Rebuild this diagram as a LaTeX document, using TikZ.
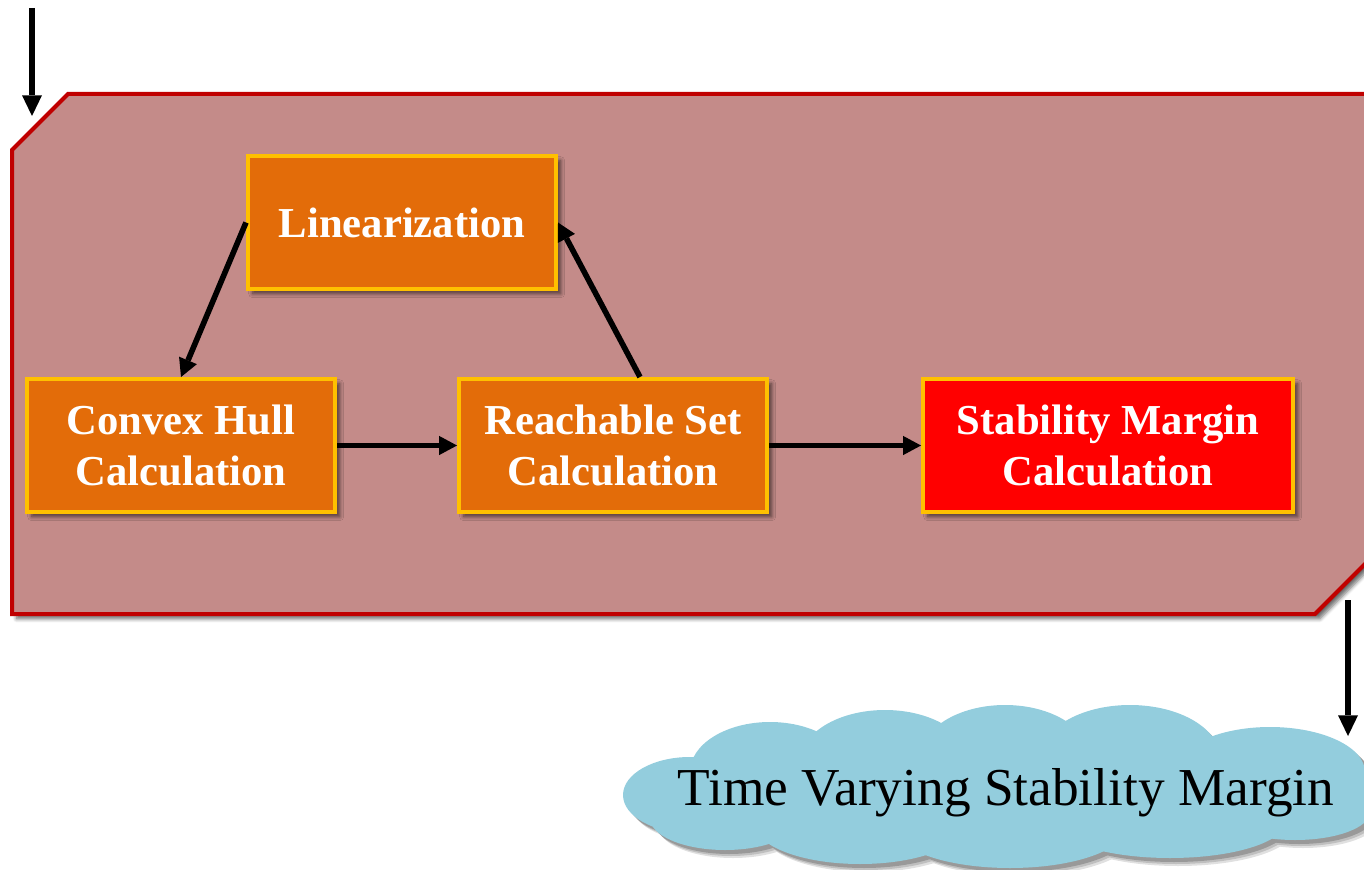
\documentclass[tikz,border=0pt]{standalone}
\usepackage{fontspec}
\setmainfont{Liberation Serif}
\usetikzlibrary{arrows.meta,shadows.blur,calc}

\definecolor{panelfill}{HTML}{C48B89}
\definecolor{panelline}{HTML}{C00000}
\definecolor{stepfill}{HTML}{E36C09}
\definecolor{stepline}{HTML}{FFC000}
\definecolor{alertfill}{HTML}{FF0000}
\definecolor{cloudfill}{HTML}{93CDDD}

\begin{document}
\begin{tikzpicture}[x=0.75pt,y=-0.75pt,
  softshadow/.style={blur shadow={shadow xshift=3.5pt, shadow yshift=-3.5pt,
      shadow blur radius=3pt, shadow blur steps=6, shadow opacity=60}},
  stepbox/.style={draw=stepline, line width=3pt, fill=stepfill, text=white,
      font=\fontsize{32}{38}\selectfont\bfseries, align=center,
      minimum width=231pt, minimum height=99.75pt, inner sep=0pt, softshadow},
  alertbox/.style={stepbox, fill=alertfill, minimum width=277.5pt},
  flow/.style={line width=4.2pt,
      -{Triangle[length=13.5pt,width=14.5pt,line width=0pt,fill=black]}},
  bigflow/.style={line width=5pt,
      -{Triangle[length=15.5pt,width=15pt,line width=0pt,fill=black]}},
  puffs/.pic={
    \fill (690,795) ellipse [x radius=67, y radius=38];
    \fill (770,772) ellipse [x radius=80, y radius=50];
    \fill (885,762) ellipse [x radius=85, y radius=52];
    \fill (1005,758) ellipse [x radius=85, y radius=53];
    \fill (1130,758) ellipse [x radius=90, y radius=53];
    \fill (1270,772) ellipse [x radius=95, y radius=45];
    \fill (1330,792) ellipse [x radius=45, y radius=36];
    \fill (725,818) ellipse [x radius=75, y radius=32];
    \fill (860,824) ellipse [x radius=105, y radius=40];
    \fill (1010,828) ellipse [x radius=115, y radius=40];
    \fill (1170,822) ellipse [x radius=115, y radius=36];
    \fill (1295,812) ellipse [x radius=75, y radius=28];
    \fill (1000,790) ellipse [x radius=330, y radius=45];
  }]

\useasboundingbox (0,0) rectangle (1364,870);

% process panel with two chamfered corners
\filldraw[draw=panelline, line width=3pt, fill=panelfill, line join=miter, softshadow]
  (12,150) -- (68,94) -- (1420,94) -- (1420,509) -- (1315,614) -- (12,614) -- cycle;

% process steps
\node[stepbox]  (lin) at (402,222.5) {Linearization};
\node[stepbox]  (cvx) at (181,445.5) {Convex Hull\\Calculation};
\node[stepbox]  (rch) at (613,445.5) {Reachable Set\\Calculation};
\node[alertbox] (stb) at (1108,445.5) {Stability Margin\\Calculation};

% result cloud: soft layered shadow, then body, then caption
\foreach \d/\o in {8/0.12, 6/0.15, 4/0.2} {
  \begin{scope}[transparency group, opacity=\o, shift={(\d,\d)}]
    \begin{scope}[black]
      \pic {puffs};
    \end{scope}
  \end{scope}
}
\begin{scope}[cloudfill]
  \pic {puffs};
\end{scope}
\node[anchor=base, inner sep=0pt, font=\fontsize{40}{48}\selectfont] (tv)
  at (1006,805) {Time Varying Stability Margin};

% loop connectors
\draw[flow] (lin.west) -- (cvx.north);
\draw[flow] (cvx.east) -- (rch.west);
\draw[flow] ($(rch.north)+(27,0)$) -- (lin.east);
\draw[flow] (rch.east) -- (stb.west);

% input and output
\coordinate (inTop) at (32,8);
\coordinate (inEnd) at (32,116);
\coordinate (outTop) at (1348,600);
\coordinate (outEnd) at (1348,736);
\draw[bigflow] (inTop) -- (inEnd);
\draw[bigflow] (outTop) -- (outEnd);
\end{tikzpicture}
\end{document}
